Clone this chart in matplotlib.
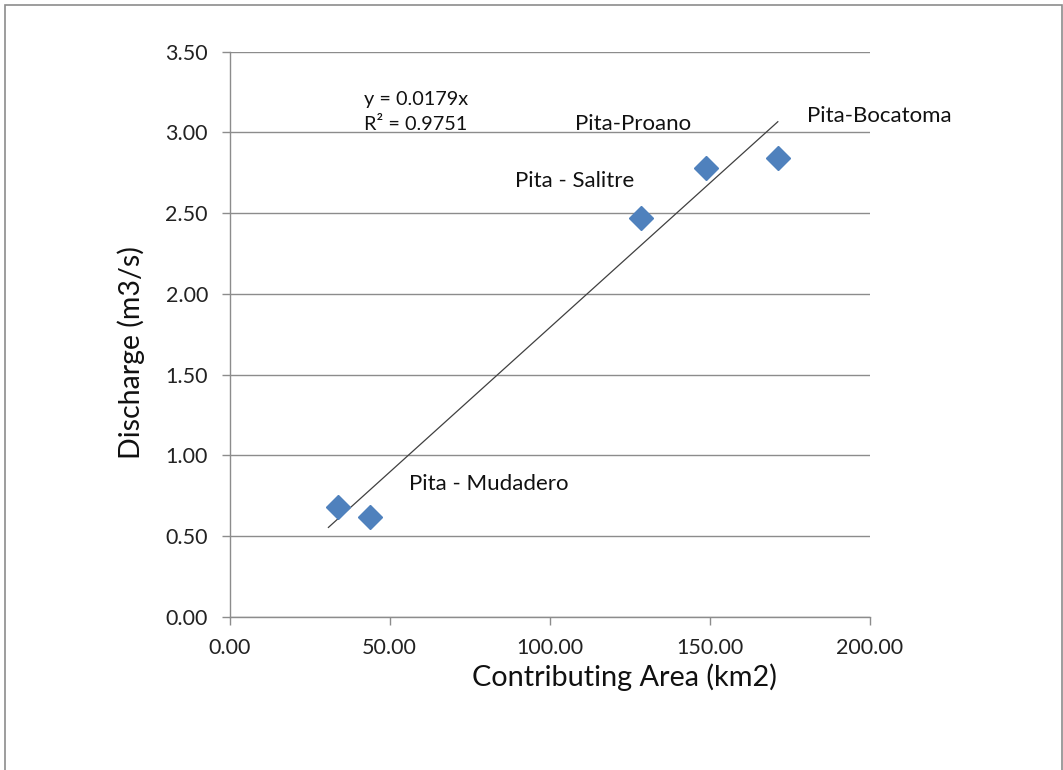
import matplotlib
matplotlib.use("Agg")
import matplotlib.pyplot as plt
from matplotlib.patches import Rectangle
from matplotlib.ticker import FormatStrFormatter, MultipleLocator

plt.rcParams['font.family'] = ['Lato', 'DejaVu Sans']

# Data
area_km2 = [33.8, 43.9, 128.5, 148.9, 171.3]
discharge = [0.681, 0.619, 2.472, 2.781, 2.843]
slope = 0.0179
trend_x = [30.9, 171.3]
r2_text = "R\u00b2 = 0.9751"
eq_text = "y = 0.0179x"
site_names = ["Pita - Mudadero", "Pita - Salitre", "Pita-Proano", "Pita-Bocatoma"]
label_x = [56.2, 89.2, 107.9, 180.5]
label_y = [0.785, 2.662, 3.015, 3.066]

W, H = 1063, 770
fig = plt.figure(figsize=(W / 100, H / 100), dpi=100)
ax = fig.add_axes([229.5 / W, 1 - 616.7 / H, (869.7 - 229.5) / W, (616.7 - 51.7) / H])

grey = '#8c8c8c'
ax.set_xlim(0, 200)
ax.set_ylim(0, 3.5)
ax.xaxis.set_major_locator(MultipleLocator(50))
ax.yaxis.set_major_locator(MultipleLocator(0.5))
ax.xaxis.set_major_formatter(FormatStrFormatter('%.2f'))
ax.yaxis.set_major_formatter(FormatStrFormatter('%.2f'))
ax.grid(axis='y', color=grey, linewidth=1.0)
ax.set_axisbelow(True)
for s in ['top', 'right']:
    ax.spines[s].set_visible(False)
for s in ['left', 'bottom']:
    ax.spines[s].set_color(grey)
    ax.spines[s].set_linewidth(1.0)
ax.tick_params(axis='both', direction='out', length=5.5, width=1.0, color=grey,
               labelsize=15.5, labelcolor='#222222')
ax.tick_params(axis='x', pad=10)
ax.tick_params(axis='y', pad=10)

# trend line
ax.plot(trend_x, [slope * v for v in trend_x], color='#404040', linewidth=0.9, zorder=3)
# points
ax.plot(area_km2, discharge, linestyle='none', marker='D', markersize=12,
        color='#4F81BD', markeredgecolor='#4F81BD', zorder=4, clip_on=False)

ax.text(42.0, 3.170, eq_text, fontsize=14.3, ha='left', va='baseline', color='#111111')
ax.text(42.0, 3.015, r2_text, fontsize=14.3, ha='left', va='baseline', color='#111111')
for name, lx, ly in zip(site_names, label_x, label_y):
    ax.text(lx, ly, name, fontsize=16, ha='left', va='baseline', color='#111111', clip_on=False)

fig.text(624 / W, 1 - 677 / H, "Contributing Area (km2)", fontsize=20.8, ha='center', va='center',
         color='#111111')
fig.text(131 / W, 1 - 353 / H, "Discharge (m3/s)", fontsize=20.5, ha='center', va='center',
         rotation=90, color='#111111')

fig.patches.append(Rectangle((5 / W, -0.01), (1062 - 5) / W, 1.01 - 5 / H, transform=fig.transFigure,
                             fill=False, edgecolor=grey, linewidth=1.2))

fig.savefig('out.png', dpi=100, facecolor='white')
